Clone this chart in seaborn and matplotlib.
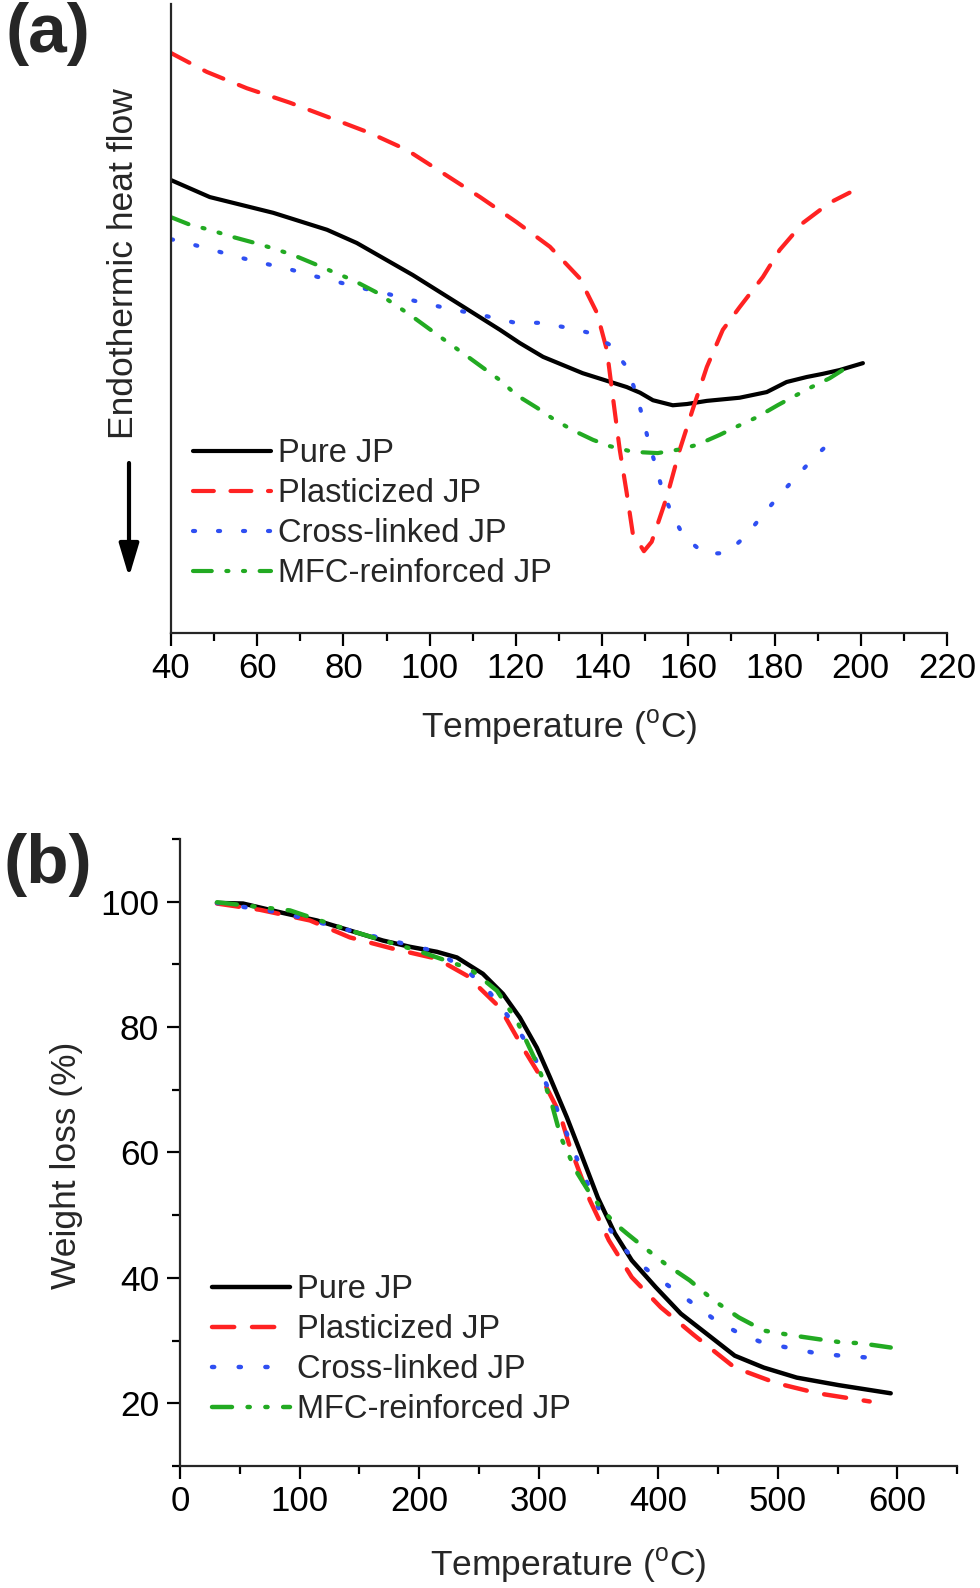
import pandas as pd
import matplotlib.pyplot as plt
import seaborn as sns
from matplotlib.ticker import MultipleLocator, NullLocator

# ==========================
# Data
# ==========================

names = ["Pure JP", "Plasticized JP", "Cross-linked JP", "MFC-reinforced JP"]

# (a) DSC, heat flow in arbitrary units (0-100 span of the axis)
a_pure_x = [40.0, 49.0, 63.7, 76.2, 83.1, 96.1, 105.4, 116.3, 120.9, 126.3, 135.5, 145.7,
            148.8, 151.8, 156.4, 159.7, 164.3, 171.9, 178.2, 182.8, 187.5, 191.2, 195.1, 200.5]
a_pure_y = [72.0, 69.3, 66.8, 64.1, 62.0, 56.9, 52.9, 48.2, 46.1, 43.9, 41.3, 39.1,
            38.2, 37.0, 36.2, 36.4, 36.9, 37.4, 38.3, 39.9, 40.7, 41.2, 41.8, 42.9]

a_plast_x = [40.0, 48.3, 57.6, 67.6, 76.9, 86.1, 94.7, 103.1, 111.7, 120.2, 127.9, 134.8,
             138.8, 141.1, 142.5, 144.1, 145.7, 147.1, 149.7, 151.5, 155.0, 158.0, 161.0,
             164.3, 168.0, 171.9, 177.3, 181.2, 186.6, 192.8, 197.4]
a_plast_y = [92.2, 89.2, 86.6, 84.3, 81.9, 79.5, 76.8, 73.1, 69.3, 65.3, 61.4, 56.4,
             50.9, 45.0, 37.5, 29.1, 22.3, 15.9, 13.0, 14.5, 21.6, 29.1, 35.5,
             42.3, 48.2, 51.8, 56.6, 60.9, 65.2, 68.4, 70.0]

a_cross_x = [40.0, 43.7, 49.7, 55.3, 61.3, 67.1, 72.9, 78.7, 84.5, 90.3, 95.9, 104.7,
             111.7, 119.3, 125.6, 131.4, 137.2, 141.8, 145.7, 147.8, 149.4, 150.8, 152.5,
             154.1, 156.4, 159.0, 163.8, 168.9, 173.3, 177.3, 181.4, 185.4, 189.3, 194.0]
a_cross_y = [62.6, 62.0, 60.9, 59.8, 58.8, 57.9, 56.8, 55.8, 54.8, 53.9, 52.9, 51.5,
             50.6, 49.4, 49.3, 48.6, 47.7, 45.8, 42.3, 38.3, 34.3, 30.4, 26.4,
             22.4, 18.6, 15.3, 12.6, 12.7, 15.4, 18.8, 22.1, 25.1, 28.0, 31.0]

a_mfc_x = [40.0, 44.4, 49.0, 54.1, 59.5, 63.4, 68.3, 73.9, 77.6, 82.2, 87.8, 95.4,
           102.4, 109.3, 116.3, 120.2, 124.9, 128.3, 133.0, 137.9, 141.8, 147.1, 152.9,
           157.3, 162.0, 167.3, 171.2, 175.9, 180.7, 184.2, 188.6, 192.8, 195.8, 198.1]
a_mfc_y = [66.1, 64.9, 64.1, 63.0, 62.0, 61.2, 60.1, 58.5, 57.4, 56.1, 54.1, 50.6,
           47.1, 43.7, 40.2, 37.8, 35.8, 34.2, 32.3, 30.7, 29.7, 28.8, 28.6,
           29.1, 29.9, 31.5, 32.8, 34.3, 36.2, 37.5, 39.1, 40.5, 41.8, 43.1]

# (b) TGA, weight (%)
b_pure_x = [30.9, 52.7, 86.1, 114.5, 142.1, 169.7, 192.3, 214.9, 231.6, 253.3, 270.1, 284.3,
            298.5, 309.4, 323.6, 334.4, 349.5, 363.7, 377.9, 398.0, 418.9, 439.8, 464.0,
            488.3, 515.9, 551.0, 594.5]
b_pure_y = [99.8, 99.7, 98.2, 97.0, 95.4, 93.8, 92.8, 92.0, 91.1, 88.5, 85.3, 81.5,
            76.7, 72.0, 65.6, 60.3, 52.8, 47.1, 42.8, 38.5, 34.3, 31.2, 27.6,
            25.7, 24.1, 22.9, 21.6]

b_plast_x = [30.9, 66.9, 108.7, 142.1, 178.1, 214.9, 240.0, 267.6, 286.8, 303.5, 317.7,
             325.3, 342.8, 358.7, 377.9, 402.2, 429.8, 464.0, 499.2, 533.4, 576.9]
b_plast_y = [99.7, 98.7, 97.0, 94.3, 92.5, 90.9, 88.2, 83.1, 76.7, 71.5, 66.2,
             61.4, 52.4, 46.0, 40.1, 35.3, 30.9, 25.7, 23.2, 21.6, 20.3]

b_cross_x = [30.9, 86.1, 142.1, 214.9, 240.0, 256.7, 281.8, 295.2, 311.9, 336.1, 353.7,
             363.7, 377.9, 394.6, 413.9, 431.4, 448.2, 467.4, 488.3, 510.9, 531.8, 552.7, 575.3]
b_cross_y = [99.8, 98.2, 95.4, 92.0, 89.0, 86.1, 79.9, 75.8, 68.5, 57.1, 49.6,
             46.5, 43.3, 40.7, 38.0, 35.6, 33.2, 31.2, 29.6, 28.8, 28.0, 27.6, 27.3]

b_mfc_x = [30.9, 92.0, 142.1, 198.2, 242.5, 265.1, 281.8, 298.5, 310.2, 318.6, 331.1, 342.8,
           353.7, 363.7, 373.7, 388.0, 405.5, 426.4, 446.5, 467.4, 488.3, 513.4, 535.1,
           554.3, 568.6, 594.5]
b_mfc_y = [99.9, 98.6, 95.4, 92.2, 89.3, 85.8, 81.0, 74.2, 68.3, 62.4, 57.1, 53.5,
           50.8, 48.7, 47.1, 44.9, 42.3, 39.6, 36.4, 33.7, 31.6, 30.8, 30.2,
           29.7, 29.6, 28.9]

# ==========================
# Styles
# ==========================

colors = {
    "Pure JP": "#000000",
    "Plasticized JP": "#ff2222",
    "Cross-linked JP": "#2f4ff2",
    "MFC-reinforced JP": "#22aa22",
}
dash_map = {
    "Pure JP": "",
    "Plasticized JP": (5, 4),
    "Cross-linked JP": (0.5, 5.5),
    "MFC-reinforced JP": (4.5, 3.5, 0.5, 3.5, 0.5, 3.5),
}


def long_df(xs, ys):
    frames = []
    for name, x, y in zip(names, xs, ys):
        frames.append(pd.DataFrame({"T": x, "v": y, "sample": name}))
    return pd.concat(frames, ignore_index=True)


df_a = long_df([a_pure_x, a_plast_x, a_cross_x, a_mfc_x],
               [a_pure_y, a_plast_y, a_cross_y, a_mfc_y])
df_b = long_df([b_pure_x, b_plast_x, b_cross_x, b_mfc_x],
               [b_pure_y, b_plast_y, b_cross_y, b_mfc_y])

sns.set_style("ticks")
plt.rcParams["font.family"] = ["Liberation Sans", "DejaVu Sans"]
plt.rcParams["mathtext.fontset"] = "custom"
plt.rcParams["mathtext.rm"] = "Liberation Sans"
plt.rcParams["axes.linewidth"] = 1.6

fig = plt.figure(figsize=(9.8, 15.88), dpi=100)
ax1 = fig.add_axes([0.1745, 0.6014, 0.7918, 0.3961])
ax2 = fig.add_axes([0.1837, 0.0768, 0.7929, 0.3949])


def draw(ax, df, lw, legend_xy):
    sns.lineplot(data=df, x="T", y="v", hue="sample", style="sample",
                 hue_order=names, style_order=names, palette=colors,
                 dashes=dash_map, estimator=None, sort=False, lw=lw,
                 legend=False, ax=ax)
    for line in ax.lines:
        line.set_dash_capstyle("round")
        line.set_solid_capstyle("round")
    ax.legend(ax.lines[:4], names, loc="upper left",
              bbox_to_anchor=legend_xy, bbox_transform=fig.transFigure,
              frameon=False, fontsize=23.5, handlelength=2.4,
              handletextpad=0.2, labelspacing=0.28, borderpad=0,
              borderaxespad=0)
    sns.despine(ax=ax)
    ax.tick_params(axis="both", which="major", length=9.5, width=1.6,
                   labelsize=25, pad=4, direction="out", colors="black")
    ax.tick_params(axis="both", which="minor", length=5.5, width=1.6,
                   direction="out", colors="black")


# ==========================
# (a) DSC
# ==========================

draw(ax1, df_a, 3.0, (193 / 980, 1 - 438 / 1588))
ax1.set_xlim(40, 220)
ax1.set_ylim(0, 100)
ax1.xaxis.set_major_locator(MultipleLocator(20))
ax1.xaxis.set_minor_locator(MultipleLocator(10))
ax1.yaxis.set_major_locator(NullLocator())
ax1.yaxis.set_minor_locator(NullLocator())
ax1.set_xlabel("Temperature ($\\mathregular{^o}$C)", fontsize=25.5)
ax1.xaxis.label.set_va("center")
ax1.xaxis.set_label_coords(0.5, -0.151)
ax1.set_ylabel("Endothermic heat flow", fontsize=25.5)
ax1.yaxis.label.set_va("center")
ax1.yaxis.set_label_coords(-0.0606, 0.587)

ax1.annotate("", xy=(129 / 980, 1 - 577 / 1588), xytext=(129 / 980, 1 - 463 / 1588),
             xycoords="figure fraction", annotation_clip=False,
             arrowprops=dict(arrowstyle="-|>,head_length=1.0,head_width=0.3",
                             lw=3, color="black", mutation_scale=20,
                             shrinkA=0, shrinkB=0))

# ==========================
# (b) TGA
# ==========================

draw(ax2, df_b, 3.2, (212 / 980, 1 - 1274 / 1588))
ax2.set_xlim(0, 650)
ax2.set_ylim(10, 110)
ax2.xaxis.set_major_locator(MultipleLocator(100))
ax2.xaxis.set_minor_locator(MultipleLocator(50))
ax2.yaxis.set_major_locator(MultipleLocator(20))
ax2.yaxis.set_minor_locator(MultipleLocator(10))
ax2.tick_params(axis="y", which="major", pad=5.5, labelsize=25.5)
ax2.set_xlabel("Temperature ($\\mathregular{^o}$C)", fontsize=25.5)
ax2.xaxis.label.set_va("center")
ax2.xaxis.set_label_coords(0.5, -0.158)
ax2.set_ylabel("Weight loss (%)", fontsize=25.5)
ax2.yaxis.label.set_va("center")
ax2.yaxis.set_label_coords(-0.1467, 0.48)

fig.text(48 / 980, 1 - 34 / 1588, "(a)", fontsize=50, fontweight="bold",
         ha="center", va="center")
fig.text(48 / 980, 1 - 865 / 1588, "(b)", fontsize=50, fontweight="bold",
         ha="center", va="center")

fig.savefig("out.png", dpi=100)
